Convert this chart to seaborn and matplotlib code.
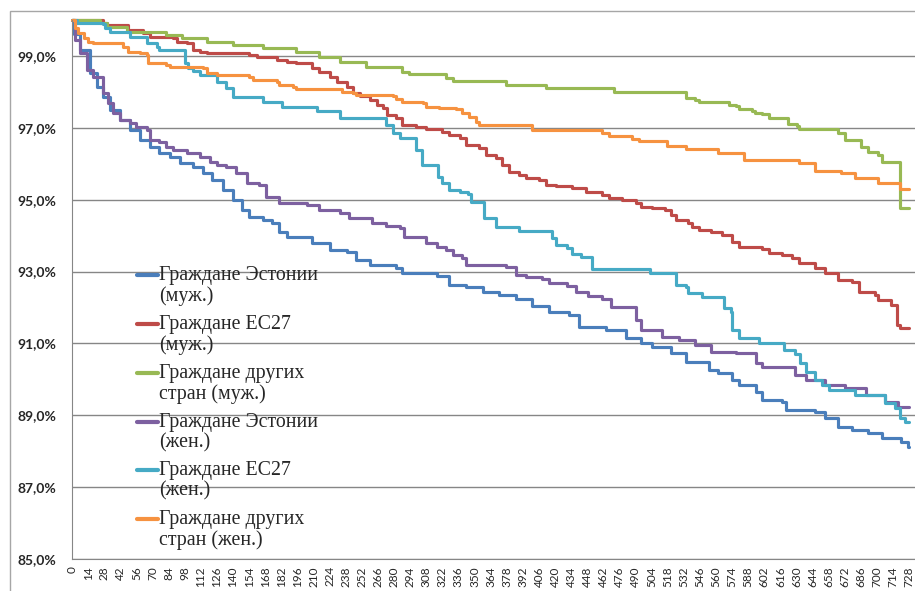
import pandas as pd
import matplotlib
matplotlib.use("Agg")
import matplotlib.pyplot as plt
from matplotlib.patches import Rectangle
import seaborn as sns

# 1-Данные (доля оставшихся, %, по дням)

est_m_days = [0, 2, 7, 16, 22, 27, 33, 42, 50, 59, 68, 76, 85, 94, 105, 114, 122, 131, 140, 148,
              154, 166, 174, 180, 187, 209, 224, 239, 247, 259, 282, 287, 317, 328, 343, 357, 371, 386, 400, 415,
              432, 441, 464, 482, 495, 504, 521, 534, 554, 562, 574, 580, 595, 600, 617, 621, 646, 655, 666, 678,
              692, 704, 721, 727, 728]
est_m_vals = [100.0, 99.60, 99.17, 98.53, 98.14, 97.86, 97.50, 97.22, 96.94, 96.66, 96.47, 96.30, 96.19, 96.02, 95.91, 95.74, 95.55, 95.27, 94.99, 94.71,
              94.52, 94.43, 94.35, 94.10, 93.96, 93.79, 93.60, 93.54, 93.32, 93.18, 93.10, 92.96, 92.88, 92.63, 92.57, 92.43, 92.35, 92.24, 92.04, 91.87,
              91.79, 91.46, 91.37, 91.15, 91.01, 90.90, 90.73, 90.48, 90.26, 90.18, 89.98, 89.84, 89.65, 89.43, 89.37, 89.15, 89.09, 88.92, 88.67, 88.59,
              88.51, 88.37, 88.26, 88.12, 88.12]

ec_m_days = [0, 27, 30, 49, 62, 68, 88, 91, 100, 105, 111, 117, 154, 161, 178, 187, 195, 209, 215, 224,
             230, 239, 244, 250, 259, 265, 270, 274, 282, 287, 299, 308, 322, 328, 337, 343, 354, 360, 369, 374,
             380, 389, 395, 406, 412, 421, 435, 447, 461, 467, 478, 490, 495, 504, 516, 521, 525, 536, 539, 545,
             556, 565, 574, 580, 600, 606, 617, 626, 632, 646, 655, 666, 678, 684, 698, 701, 712, 717, 720, 728]
ec_m_vals = [100.0, 99.92, 99.86, 99.72, 99.64, 99.53, 99.50, 99.39, 99.36, 99.17, 99.11, 99.08, 99.03, 98.97, 98.89, 98.83, 98.80, 98.67, 98.55, 98.41,
             98.28, 98.14, 97.97, 97.89, 97.78, 97.64, 97.55, 97.36, 97.27, 97.08, 97.02, 96.97, 96.88, 96.80, 96.72, 96.52, 96.44, 96.24, 96.16, 95.97,
             95.77, 95.69, 95.60, 95.55, 95.41, 95.38, 95.33, 95.21, 95.13, 95.05, 94.99, 94.91, 94.80, 94.77, 94.71, 94.57, 94.43, 94.35, 94.24, 94.16,
             94.10, 94.02, 93.82, 93.68, 93.63, 93.52, 93.46, 93.38, 93.24, 93.10, 92.96, 92.77, 92.71, 92.43, 92.35, 92.21, 92.07, 91.51, 91.43, 91.43]

oth_m_days = [0, 24, 30, 48, 82, 96, 117, 140, 166, 195, 215, 233, 256, 287, 293, 325, 331, 377, 412, 471,
              534, 542, 545, 571, 577, 580, 591, 594, 600, 606, 623, 630, 632, 666, 672, 686, 692, 701, 704, 720, 728]
oth_m_vals = [100.0, 99.92, 99.81, 99.67, 99.58, 99.50, 99.39, 99.31, 99.22, 99.11, 98.97, 98.83, 98.69, 98.55, 98.50, 98.39, 98.30, 98.19, 98.11, 98.00,
              97.83, 97.78, 97.72, 97.64, 97.61, 97.52, 97.47, 97.41, 97.39, 97.27, 97.11, 97.05, 96.97, 96.86, 96.66, 96.47, 96.33, 96.24, 96.05, 94.77, 94.77]

est_f_days = [0, 3, 7, 13, 18, 27, 31, 36, 42, 50, 56, 65, 68, 76, 82, 88, 100, 111, 120, 126,
              134, 143, 152, 163, 169, 180, 204, 215, 233, 241, 261, 273, 285, 289, 308, 317, 325, 331, 339, 343,
              377, 386, 395, 409, 415, 430, 438, 449, 461, 469, 490, 495, 513, 528, 542, 556, 577, 595, 600, 629,
              638, 655, 672, 690, 707, 718, 728]
est_f_vals = [100.0, 99.44, 99.08, 98.61, 98.41, 97.97, 97.69, 97.41, 97.22, 97.13, 97.02, 96.94, 96.66, 96.61, 96.47, 96.38, 96.30, 96.19, 96.05, 95.97,
              95.91, 95.74, 95.46, 95.41, 95.08, 94.91, 94.85, 94.71, 94.63, 94.49, 94.35, 94.27, 94.21, 93.96, 93.79, 93.68, 93.60, 93.46, 93.38, 93.18,
              93.13, 92.90, 92.85, 92.79, 92.68, 92.60, 92.43, 92.32, 92.24, 92.01, 91.65, 91.37, 91.18, 91.10, 90.96, 90.76, 90.73, 90.45, 90.34, 90.12,
              89.98, 89.84, 89.76, 89.56, 89.37, 89.23, 89.23]

ec_f_days = [0, 4, 27, 29, 33, 50, 65, 74, 76, 98, 101, 105, 111, 126, 134, 140, 166, 183, 213, 233,
             273, 279, 285, 299, 304, 318, 322, 328, 337, 344, 347, 358, 369, 389, 417, 421, 430, 435, 443, 452,
             503, 525, 534, 536, 548, 567, 573, 574, 580, 597, 619, 629, 633, 638, 646, 652, 658, 681, 707, 716,
             720, 724, 728]
ec_f_vals = [100.0, 99.92, 99.89, 99.78, 99.67, 99.53, 99.36, 99.25, 99.17, 98.80, 98.67, 98.58, 98.47, 98.28, 98.11, 97.86, 97.72, 97.58, 97.47, 97.27,
             97.08, 96.86, 96.72, 96.38, 95.97, 95.63, 95.46, 95.27, 95.21, 95.16, 94.94, 94.49, 94.24, 94.13, 93.93, 93.74, 93.66, 93.49, 93.41, 93.07,
             92.96, 92.63, 92.57, 92.40, 92.29, 91.99, 91.87, 91.37, 91.15, 91.01, 90.82, 90.71, 90.46, 90.20, 89.98, 89.84, 89.70, 89.56, 89.34, 89.20,
             88.92, 88.81, 88.81]

oth_f_days = [0, 3, 5, 10, 14, 18, 44, 49, 59, 65, 66, 82, 85, 114, 117, 126, 154, 157, 178, 180,
              192, 195, 235, 244, 247, 279, 282, 287, 305, 308, 319, 334, 339, 345, 351, 354, 400, 461, 467, 487,
              493, 517, 534, 562, 584, 632, 646, 669, 681, 701, 720, 728]
oth_f_vals = [100.0, 99.78, 99.64, 99.50, 99.39, 99.36, 99.25, 99.11, 99.08, 99.03, 98.80, 98.75, 98.69, 98.67, 98.53, 98.47, 98.41, 98.33, 98.28, 98.19,
              98.14, 98.08, 98.00, 97.97, 97.92, 97.89, 97.80, 97.72, 97.69, 97.58, 97.55, 97.52, 97.41, 97.30, 97.16, 97.08, 96.94, 96.86, 96.77, 96.69,
              96.63, 96.49, 96.41, 96.30, 96.10, 96.02, 95.80, 95.74, 95.60, 95.46, 95.30, 95.30]

series_names = ["Граждане Эстонии\n(муж.)", "Граждане ЕС27\n(муж.)", "Граждане других\nстран (муж.)",
                "Граждане Эстонии\n(жен.)", "Граждане ЕС27\n(жен.)", "Граждане других\nстран (жен.)"]
series_colors = ["#4A7EBB", "#BE4B48", "#98B954", "#7D60A0", "#46AAC5", "#F69240"]

y_ticks = [85, 87, 89, 91, 93, 95, 97, 99]
y_tick_labels = ["85,0%", "87,0%", "89,0%", "91,0%", "93,0%", "95,0%", "97,0%", "99,0%"]
x_tick_days = list(range(0, 729, 14))

# 2-Tabela longa

all_days = [est_m_days, ec_m_days, oth_m_days, est_f_days, ec_f_days, oth_f_days]
all_vals = [est_m_vals, ec_m_vals, oth_m_vals, est_f_vals, ec_f_vals, oth_f_vals]
frames = []
for name, d, v in zip(series_names, all_days, all_vals):
    frames.append(pd.DataFrame({"day": d, "value": v, "series": name}))
df = pd.concat(frames, ignore_index=True)

# 3-Gráfico

sns.set_style("white")
plt.rcParams["font.family"] = ["Lato", "DejaVu Sans"]

fig = plt.figure(figsize=(9.15, 5.91), dpi=100)
ax = fig.add_axes([72/915, 32/591, 1 - 72/915, (559 - 20)/591])

sns.lineplot(data=df, x="day", y="value", hue="series", hue_order=series_names,
             palette=series_colors, drawstyle="steps-post", linewidth=2.25,
             estimator=None, sort=False, ax=ax, clip_on=False)

ax.set_xlim(0, 733)
ax.set_ylim(85, 100)
ax.set_xlabel("")
ax.set_ylabel("")

gray = "#868686"
ax.set_yticks(y_ticks)
ax.set_yticklabels(y_tick_labels, fontsize=10, fontweight="bold")
ax.yaxis.grid(True, color=gray, lw=1)
ax.tick_params(axis="y", length=4.3, color=gray, pad=7)

ax.set_xticks(x_tick_days)
ax.set_xticklabels([str(d) for d in x_tick_days], rotation=90, fontsize=8.5)
ax.set_xticks(range(0, 729), minor=True)
ax.tick_params(axis="x", which="both", length=2.2, color=gray, pad=3)

for s in ["top", "right"]:
    ax.spines[s].set_visible(False)
for s in ["left", "bottom"]:
    ax.spines[s].set_color(gray)

handles, labels = ax.get_legend_handles_labels()
leg = ax.legend(handles, labels, loc="upper left",
                bbox_to_anchor=(137/915, 1 - 266/591), bbox_transform=fig.transFigure,
                frameon=False, prop={"family": "Liberation Serif", "size": 14.3},
                handlelength=1.05, handletextpad=0.08, labelspacing=0.44,
                borderpad=0, borderaxespad=0)
for t in leg.get_texts():
    t.set_linespacing(1.1)
# линия легенды на уровне первой строки
for h in leg.legend_handles:
    h.set_linewidth(3)
    h.set_ydata([y + 7.9 for y in h.get_ydata()])

# moldura do gráfico
fig.add_artist(Rectangle((10/915, -0.05), 1.1, (591 - 11)/591 + 0.05,
                         transform=fig.transFigure, fill=False, edgecolor="#A6A6A6", lw=1))

fig.savefig("out.png", dpi=100)
